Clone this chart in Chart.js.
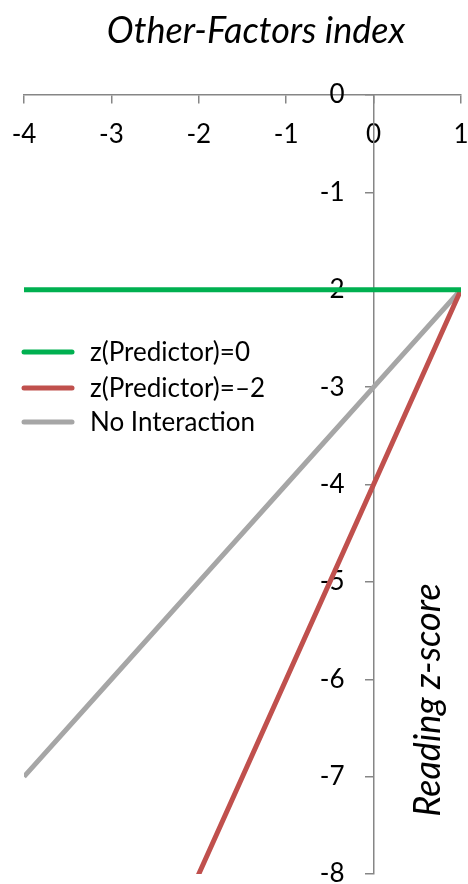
<!DOCTYPE html>
<html>
<head>
<meta charset="utf-8">
<script src="https://cdn.jsdelivr.net/npm/chart.js@4/dist/chart.umd.min.js"></script>
<style>
  html, body { margin: 0; padding: 0; background: #fff; }
  canvas { display: block; }
</style>
</head>
<body>
<canvas id="c" width="468" height="884"></canvas>
<script>
// ---- data ----
const otherFactors = [-4, -3, -2, -1, 0, 1];
const predictorZero = [-2, -2, -2, -2, -2, -2];
const predictorMinus2 = [-12, -10, -8, -6, -4, -2];
const noInteraction = [-7, -6, -5, -4, -3, -2];
const seriesLabels = ['z(Predictor)=0', 'z(Predictor)=\u20132', 'No Interaction'];
const seriesColors = ['#00B050', '#C0504D', '#A6A6A6'];
const xTicks = [-4, -3, -2, -1, 0, 1];
const yTicks = [0, -1, -2, -3, -4, -5, -6, -7, -8];
const titleText = 'Other-Factors index';
const yTitleText = 'Reading z-score';

const FONT = 'Lato, "Open Sans", sans-serif';

function pts(ys) { return otherFactors.map((x, i) => ({ x: x, y: ys[i] })); }

function noPad(s) { s.paddingLeft = 0; s.paddingRight = 0; s.paddingTop = 0; s.paddingBottom = 0; }

// shift y labels left of the crossing axis (tick length + gap)
function shiftYLabels(s) {
  if (s._shiftPatched) return;
  const orig = s._computeLabelItems.bind(s);
  s._computeLabelItems = function (area) {
    const items = orig(area);
    items.forEach(it => {
      const t = it.options.translation;
      it.options.translation = [t[0] - 29, t[1]];
    });
    return items;
  };
  s._shiftPatched = true;
}

const decor = {
  id: 'decor',
  afterDraw(chart) {
    const ctx = chart.ctx;
    ctx.save();
    // title
    ctx.fillStyle = '#000';
    ctx.font = 'italic 36px ' + FONT;
    ctx.textAlign = 'center';
    ctx.textBaseline = 'alphabetic';
    ctx.fillText(titleText, 256, 43);
    // y title
    ctx.save();
    ctx.translate(440, 700);
    ctx.rotate(-Math.PI / 2);
    ctx.font = 'italic 36px ' + FONT;
    ctx.fillText(yTitleText, 0, 0);
    ctx.restore();
    // legend
    const ys = [352, 388, 422];
    ctx.font = '26px ' + FONT;
    ctx.textAlign = 'left';
    ctx.textBaseline = 'middle';
    chart.data.datasets.forEach((ds, i) => {
      ctx.strokeStyle = ds.borderColor;
      ctx.lineWidth = 5;
      ctx.lineCap = 'round';
      ctx.beginPath();
      ctx.moveTo(24, ys[i]);
      ctx.lineTo(72, ys[i]);
      ctx.stroke();
      ctx.fillStyle = '#000';
      ctx.fillText(ds.label, 90, ys[i] + 1);
    });
    ctx.restore();
  }
};

new Chart(document.getElementById('c'), {
  type: 'line',
  data: {
    datasets: [
      { label: seriesLabels[0], data: pts(predictorZero), borderColor: seriesColors[0], order: 1 },
      { label: seriesLabels[1], data: pts(predictorMinus2), borderColor: seriesColors[1], order: 2 },
      { label: seriesLabels[2], data: pts(noInteraction), borderColor: seriesColors[2], order: 3 }
    ]
  },
  options: {
    responsive: false,
    animation: false,
    layout: { padding: { left: 24, right: 7, top: 95, bottom: 10 } },
    elements: {
      line: { borderWidth: 5, tension: 0 },
      point: { radius: 0 }
    },
    plugins: { legend: { display: false }, title: { display: false }, tooltip: { enabled: false } },
    scales: {
      x: {
        type: 'linear',
        position: { y: 0 },
        min: -4, max: 1,
        afterBuildTicks: (s) => { s.ticks = xTicks.map(v => ({ value: v })); },
        afterFit: noPad,
        grid: { drawOnChartArea: false, drawTicks: true, tickLength: 8, color: '#868686', lineWidth: 1.5 },
        border: { color: '#868686', width: 1.5 },
        ticks: { color: '#000', font: { family: FONT, size: 26 }, padding: 16, maxRotation: 0, autoSkip: false }
      },
      y: {
        type: 'linear',
        position: { x: 0 },
        min: -8, max: 0,
        afterBuildTicks: (s) => { s.ticks = yTicks.map(v => ({ value: v })); },
        afterFit: noPad,
        afterUpdate: shiftYLabels,
        grid: { drawOnChartArea: false, drawTicks: true, tickLength: 8, color: '#868686', lineWidth: 1.5 },
        border: { color: '#868686', width: 1.5 },
        ticks: { color: '#000', font: { family: FONT, size: 26 }, padding: 20, autoSkip: false }
      }
    }
  },
  plugins: [decor]
});
</script>
</body>
</html>
